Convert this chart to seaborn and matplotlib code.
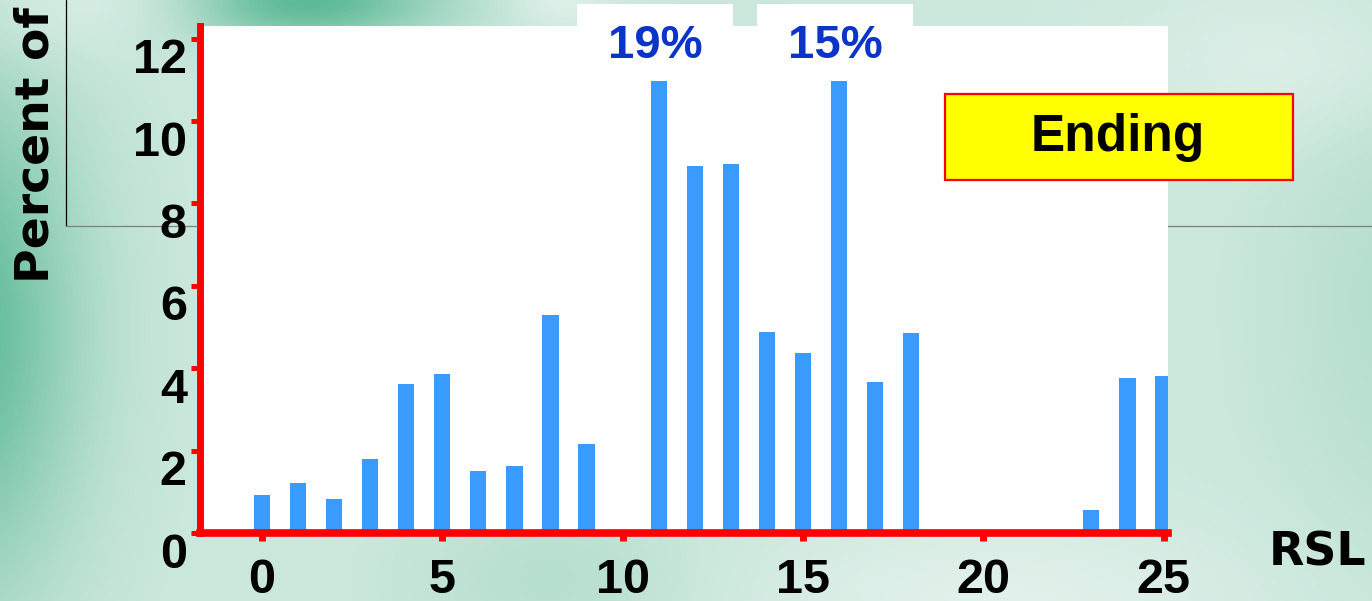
import numpy as np
import pandas as pd
import matplotlib
matplotlib.use("Agg")
import matplotlib.pyplot as plt
import seaborn as sns
from matplotlib.patches import Rectangle
from matplotlib import transforms as mtransforms

# Distribution of RSL at the ending stage (percent of cases)
rsl = list(range(26))
pct = [0.92, 1.21, 0.83, 1.80, 3.62, 3.86, 1.50, 1.63, 5.29, 2.16,
       0.0, 19.0, 8.91, 8.96, 4.88, 4.37, 15.0, 3.67, 4.85, 0.0,
       0.0, 0.0, 0.0, 0.56, 3.76, 3.81]
callouts = [11, 16]           # bars that run off the top of the scale
y_ticks = [0, 2, 4, 6, 8, 10, 12]
x_ticks = [0, 5, 10, 15, 20, 25]
y_label = "Percent of"
x_label = "RSL"
panel_title = "Ending"

W, H, DPI = 1372, 601, 100
sns.set_theme(style="white")
plt.rcParams["font.family"] = ["Liberation Sans", "DejaVu Sans"]

fig = plt.figure(figsize=(W / DPI, H / DPI), dpi=DPI)

# ---- soft green slide background ----
yy, xx = np.mgrid[0:H, 0:W].astype(float)
base = np.array([204, 232, 221], float)
dark = np.array([90, 184, 148], float)
light = np.array([230, 243, 238], float)

def blob(cx, cy, sx, sy):
    return np.exp(-(((xx - cx) / sx) ** 2 + ((yy - cy) / sy) ** 2))

w_dark = np.clip(0.95 * blob(-40, 330, 120, 260)
                 + 1.0 * blob(300, 0, 140, 45)
                 + 0.20 * blob(1400, 300, 120, 260)
                 + 0.20 * blob(560, 580, 140, 80), 0, 1)
w_light = np.clip(0.8 * blob(1000, 601, 260, 90)
                  + 0.6 * blob(1280, 60, 160, 80)
                  + 0.6 * blob(90, 0, 120, 60)
                  + 0.7 * blob(560, 0, 50, 30), 0, 1)
img = base[None, None, :] * (1 - w_dark[..., None]) + dark[None, None, :] * w_dark[..., None]
img = img * (1 - w_light[..., None]) + light[None, None, :] * w_light[..., None]
img = np.clip(img / 255.0, 0, 1)

bg = fig.add_axes([0, 0, 1, 1], zorder=-5)
bg.imshow(img, extent=(0, W, H, 0), aspect="auto", interpolation="bilinear")
bg.set_xlim(0, W)
bg.set_ylim(H, 0)
bg.axis("off")
bg.plot([66, 66], [0, 226], color="black", lw=0.9)
bg.plot([66, W], [226, 226], color="#7f7f7f", lw=0.9)

# ---- main histogram panel ----
ax_left, ax_right, ax_top, ax_bottom = 200, 1168, 26, 533
ax = fig.add_axes([ax_left / W, (H - ax_bottom) / H,
                   (ax_right - ax_left) / W, (ax_bottom - ax_top) / H])
ax.set_facecolor("white")

df = pd.DataFrame({"rsl": rsl, "pct": pct})
sns.barplot(data=df, x="rsl", y="pct", native_scale=True, width=0.45,
            color="#3a9bff", saturation=1, errorbar=None, ax=ax,
            linewidth=0, edgecolor="none")

px_per_unit = 36.06
x0_px = 262
ax.set_xlim((ax_left - x0_px) / px_per_unit, (ax_right - x0_px) / px_per_unit)
ax.set_ylim(0, (ax_bottom - ax_top) / 41.2)
ax.set_xlabel("")
ax.set_ylabel("")

for side in ["top", "right"]:
    ax.spines[side].set_visible(False)
ax.spines["left"].set_color("red")
ax.spines["left"].set_linewidth(5)
ax.spines["bottom"].set_color("red")
ax.spines["bottom"].set_linewidth(5.5)

ax.set_yticks(y_ticks)
ax.set_yticklabels([str(v) for v in y_ticks])
ax.set_xticks(x_ticks)
ax.set_xticklabels([str(v) for v in x_ticks])
ax.tick_params(axis="y", direction="out", length=6.5, width=3.6, color="red",
               pad=3, labelsize=35, left=True)
ax.tick_params(axis="x", direction="out", length=6, width=5, color="red",
               pad=12, labelsize=35, bottom=True)
for lab in ax.get_yticklabels() + ax.get_xticklabels():
    lab.set_fontweight("bold")
    lab.set_color("black")
# value labels on the y axis sit a little below their tick marks
shift = mtransforms.ScaledTranslation(0, -17 / DPI, fig.dpi_scale_trans)
for lab in ax.get_yticklabels():
    lab.set_transform(lab.get_transform() + shift)

# ---- call-outs for bars that exceed the scale ----
blend = mtransforms.blended_transform_factory(ax.transData, fig.transFigure)
box_w = 156 / px_per_unit
for xv in callouts:
    val = pct[rsl.index(xv)]
    ax.add_patch(Rectangle((xv - 0.1 - box_w / 2, (H - 81) / H), box_w, 77 / H,
                           transform=blend, facecolor="white", edgecolor="none",
                           clip_on=False, zorder=10))
    ax.text(xv - 0.1, (H - 46) / H, f"{val:.0f}%", transform=blend,
            ha="center", va="center", fontsize=34, fontweight="bold",
            color="#0a35c8", zorder=11, clip_on=False)

# ---- panel tag ----
fig.patches.append(Rectangle((945 / W, (H - 180) / H), 348 / W, 86 / H,
                             transform=fig.transFigure, facecolor="#ffff00",
                             edgecolor="red", linewidth=1.6, zorder=5))
fig.text(1118 / W, (H - 138) / H, panel_title, ha="center", va="center",
         fontsize=37, fontweight="bold", color="black", zorder=6)

# ---- axis titles ----
fig.text(36 / W, (H - 145) / H, y_label, rotation=90, ha="center", va="center",
         fontsize=34, fontweight="bold", color="black",
         family=["DejaVu Sans"])
fig.text(1318 / W, (H - 553) / H, x_label, ha="center", va="center",
         fontsize=33, fontweight="bold", color="black",
         family=["DejaVu Sans"])

fig.savefig("out.png", dpi=DPI)
